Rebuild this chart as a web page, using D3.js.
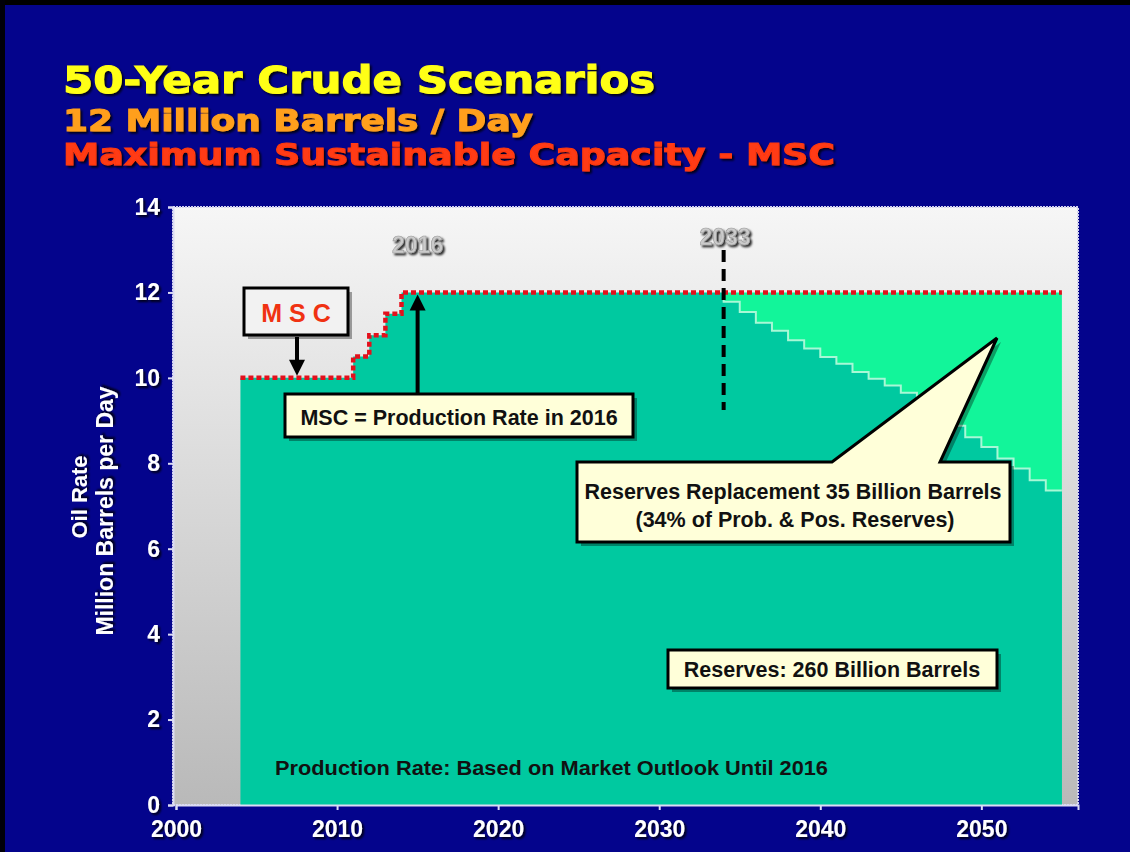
<!DOCTYPE html>
<html>
<head>
<meta charset="utf-8">
<script src="https://cdn.jsdelivr.net/npm/d3@7"></script>
<style>
  html, body { margin: 0; padding: 0; background: #04048c; }
  svg { display: block; }
</style>
</head>
<body>
<div id="chart"></div>
<script>
// ---- data ----
var titleLines  = ["50-Year Crude Scenarios", "12 Million Barrels / Day", "Maximum Sustainable Capacity - MSC"];
var titleColors = ["#ffff14", "#ff9f1c", "#ff3a12"];

// Maximum sustainable capacity build-up (step starts, million b/d)
var mscYears = [2004, 2011, 2012, 2013, 2014];
var mscRates = [10, 10.5, 11, 11.5, 12];
var endYear  = 2055;

// Production decline after 2033 (one step per year)
var declineYears = [2034, 2035, 2036, 2037, 2038, 2039, 2040, 2041, 2042, 2043, 2044,
                    2045, 2046, 2047, 2048, 2049, 2050, 2051, 2052, 2053, 2054];
var declineRates = [11.78, 11.54, 11.29, 11.1, 10.88, 10.69, 10.49, 10.33, 10.14, 9.98, 9.82,
                    9.65, 9.42, 9.15, 8.88, 8.61, 8.38, 8.11, 7.88, 7.6, 7.36];

var xTicks = [2000, 2010, 2020, 2030, 2040, 2050];
var yTicks = [0, 2, 4, 6, 8, 10, 12, 14];

// ---- layout ----
var width = 1130, height = 852;
var plotLeft = 173, plotRight = 1078, plotTop = 207, plotBottom = 805;
var font = "'Liberation Sans', Arial, sans-serif";
var titleFont = "'DejaVu Sans', 'Liberation Sans', sans-serif";
var narrowFont = "'Liberation Sans Narrow', 'Liberation Sans', Arial, sans-serif";

var svg = d3.select("#chart").append("svg")
            .attr("width", width)
            .attr("height", height);

var defs = svg.append("defs");

var bgGrad = defs.append("linearGradient").attr("id", "plotBg")
                 .attr("x1", 0).attr("y1", 0).attr("x2", 0).attr("y2", 1);
bgGrad.append("stop").attr("offset", "0%").attr("stop-color", "#f6f6f6");
bgGrad.append("stop").attr("offset", "100%").attr("stop-color", "#b9b9b9");

var shadow = defs.append("filter").attr("id", "textShadow")
                 .attr("x", "-10%").attr("y", "-20%").attr("width", "130%").attr("height", "150%");
shadow.append("feDropShadow").attr("dx", 2).attr("dy", 2).attr("stdDeviation", 0.8)
      .attr("flood-color", "#000").attr("flood-opacity", 0.85);

// slide background with the dark frame edges
svg.append("rect").attr("width", width).attr("height", height).attr("fill", "#04048c");
svg.append("rect").attr("width", width).attr("height", 5).attr("fill", "#000");
svg.append("rect").attr("width", 5).attr("height", height).attr("fill", "#000008");

// titles
var titleBase = [93, 131, 165], titleSize = [37, 30, 30], titleLen = [592, 470, 772];
titleLines.forEach(function(t, i) {
  svg.append("text")
     .text(t)
     .attr("x", 63).attr("y", titleBase[i])
     .attr("font-family", titleFont)
     .attr("font-weight", "bold")
     .attr("font-size", titleSize[i])
     .attr("textLength", titleLen[i])
     .attr("lengthAdjust", "spacingAndGlyphs")
     .attr("fill", titleColors[i])
     .attr("stroke", titleColors[i])
     .attr("stroke-width", 1)
     .attr("filter", "url(#textShadow)");
});

// ---- scales ----
var x = d3.scaleLinear().domain([2000, 2056]).range([176, 1078]);
var y = d3.scaleLinear().domain([0, 14]).range([plotBottom, plotTop]);

// plot area
svg.append("rect")
   .attr("x", plotLeft).attr("y", plotTop)
   .attr("width", plotRight - plotLeft).attr("height", plotBottom - plotTop)
   .attr("fill", "url(#plotBg)")
   .attr("stroke", "#d4d4ee")
   .attr("stroke-width", 2)
   .attr("stroke-dasharray", "2,1");

// build step series
var capacity = mscYears.map(function(yr, i) { return {year: yr, rate: mscRates[i]}; });
capacity.push({year: endYear, rate: mscRates[mscRates.length - 1]});

var production = mscYears.map(function(yr, i) { return {year: yr, rate: mscRates[i]}; });
declineYears.forEach(function(yr, i) { production.push({year: yr, rate: declineRates[i]}); });
production.push({year: endYear, rate: declineRates[declineRates.length - 1]});

var replacement = [{year: declineYears[0], rate: 12}, {year: endYear, rate: 12}];

var stairs = [{year: declineYears[0], rate: 12}];
declineYears.forEach(function(yr, i) { stairs.push({year: yr, rate: declineRates[i]}); });
stairs.push({year: endYear, rate: declineRates[declineRates.length - 1]});

var area = d3.area()
             .x(function(d) { return x(d.year); })
             .y0(y(0))
             .y1(function(d) { return y(d.rate); })
             .curve(d3.curveStepAfter);

var stepLine = d3.line()
                 .x(function(d) { return x(d.year); })
                 .y(function(d) { return y(d.rate); })
                 .curve(d3.curveStepAfter);

// reserves replacement (light) under the produced reserves (dark)
svg.append("path").datum(replacement).attr("d", area).attr("fill", "#12f59a");
svg.append("path").datum(production).attr("d", area).attr("fill", "#00c9a0");
svg.append("path").datum(stairs).attr("d", stepLine)
   .attr("fill", "none").attr("stroke", "#a8f8d6").attr("stroke-width", 2);

// MSC dotted line
svg.append("path").datum(capacity).attr("d", stepLine)
   .attr("fill", "none")
   .attr("stroke", "#e3101c")
   .attr("stroke-width", 4.5)
   .attr("stroke-dasharray", "5,3");

// ---- axes ----
var yAxis = svg.append("g")
               .attr("transform", "translate(" + plotLeft + ",0)")
               .call(d3.axisLeft(y).tickValues(yTicks).tickSize(5).tickPadding(8));
var xAxis = svg.append("g")
               .attr("transform", "translate(0," + plotBottom + ")")
               .call(d3.axisBottom(x).tickValues(xTicks).tickFormat(d3.format("d")).tickSize(5).tickPadding(11));

[yAxis, xAxis].forEach(function(ax) {
  ax.select(".domain").attr("stroke", "#dcdcf4").attr("stroke-width", 2);
  ax.selectAll(".tick line").attr("stroke", "#dcdcf4").attr("stroke-width", 2);
  ax.selectAll(".tick text")
    .attr("fill", "#fff")
    .attr("font-family", font)
    .attr("font-weight", "bold")
    .attr("font-size", 23)
    .attr("filter", "url(#textShadow)");
});

// y axis title (two lines)
svg.append("text").text("Oil Rate")
   .attr("transform", "translate(87,497) rotate(-90)")
   .attr("text-anchor", "middle")
   .attr("font-family", font).attr("font-weight", "bold").attr("font-size", 22)
   .attr("fill", "#fff").attr("filter", "url(#textShadow)");
svg.append("text").text("Million Barrels per Day")
   .attr("transform", "translate(113,511) rotate(-90)")
   .attr("text-anchor", "middle")
   .attr("font-family", font).attr("font-weight", "bold").attr("font-size", 23)
   .attr("fill", "#fff").attr("filter", "url(#textShadow)");

// ---- annotations ----
function label(txt, cx, cy) {
  svg.append("text").text(txt)
     .attr("x", cx).attr("y", cy)
     .attr("text-anchor", "middle")
     .attr("font-family", font).attr("font-weight", "bold").attr("font-size", 23)
     .attr("fill", "#cbcbcb")
     .attr("stroke", "#9a9a9a").attr("stroke-width", 0.6)
     .attr("filter", "url(#textShadow)");
}
label("2016", x(2015), 253);
label("2033", 725, 245);

// 2033 dashed marker
svg.append("line")
   .attr("x1", x(declineYears[0])).attr("x2", x(declineYears[0]))
   .attr("y1", 250).attr("y2", 410)
   .attr("stroke", "#000").attr("stroke-width", 4)
   .attr("stroke-dasharray", "12,7");

function box(x0, y0, w, h, fill) {
  svg.append("rect").attr("x", x0 + 4).attr("y", y0 + 4).attr("width", w).attr("height", h)
     .attr("fill", "rgba(0,0,0,0.35)");
  svg.append("rect").attr("x", x0).attr("y", y0).attr("width", w).attr("height", h)
     .attr("fill", fill).attr("stroke", "#000").attr("stroke-width", 3);
}

function arrow(x0, yFrom, yTo) {
  var dir = yTo > yFrom ? 1 : -1;
  svg.append("line")
     .attr("x1", x0).attr("x2", x0)
     .attr("y1", yFrom).attr("y2", yTo - dir * 14)
     .attr("stroke", "#000").attr("stroke-width", 4);
  svg.append("path")
     .attr("d", "M" + (x0 - 8) + "," + (yTo - dir * 16) + " L" + (x0 + 8) + "," + (yTo - dir * 16) +
                " L" + x0 + "," + yTo + " Z")
     .attr("fill", "#000");
}

// MSC box + arrow to the 10 MMb/d plateau
box(244, 288, 104, 47, "#f2f2f2");
svg.append("text").text("M S C")
   .attr("x", 296).attr("y", 322)
   .attr("text-anchor", "middle")
   .attr("font-family", font).attr("font-weight", "bold").attr("font-size", 25)
   .attr("fill", "#f03212");
arrow(297, 337, y(10) - 2);

// MSC = Production Rate in 2016
arrow(x(2015), 394, y(12) + 2);
box(285, 394, 348, 43, "#ffffd9");
svg.append("text").text("MSC = Production Rate in 2016")
   .attr("x", 459).attr("y", 425)
   .attr("text-anchor", "middle")
   .attr("font-family", font).attr("font-weight", "bold").attr("font-size", 21.5)
   .attr("fill", "#111");

// reserves replacement call-out with pointer
var callout = "M577,462 L832,462 L997,338 L940,462 L1010,462 L1010,542 L577,542 Z";
svg.append("path").attr("d", callout).attr("transform", "translate(4,4)")
   .attr("fill", "rgba(0,0,0,0.35)");
svg.append("path").attr("d", callout)
   .attr("fill", "#ffffd9").attr("stroke", "#000").attr("stroke-width", 3)
   .attr("stroke-linejoin", "miter");
svg.append("text").text("Reserves Replacement 35 Billion Barrels")
   .attr("x", 793).attr("y", 499)
   .attr("text-anchor", "middle")
   .attr("font-family", font).attr("font-weight", "bold").attr("font-size", 21.5)
   .attr("fill", "#111");
svg.append("text").text("(34% of Prob. & Pos. Reserves)")
   .attr("x", 795).attr("y", 527)
   .attr("text-anchor", "middle")
   .attr("font-family", font).attr("font-weight", "bold").attr("font-size", 21.5)
   .attr("fill", "#111");

// total reserves box
box(668, 650, 329, 38, "#ffffd9");
svg.append("text").text("Reserves: 260 Billion Barrels")
   .attr("x", 832).attr("y", 677)
   .attr("text-anchor", "middle")
   .attr("font-family", font).attr("font-weight", "bold").attr("font-size", 21.5)
   .attr("fill", "#111");

// footnote inside the plot
svg.append("text").text("Production Rate: Based on Market Outlook Until 2016")
   .attr("x", 275).attr("y", 775)
   .attr("font-family", narrowFont).attr("font-weight", "bold").attr("font-size", 20)
   .attr("textLength", 553).attr("lengthAdjust", "spacingAndGlyphs")
   .attr("fill", "#111");
</script>
</body>
</html>
